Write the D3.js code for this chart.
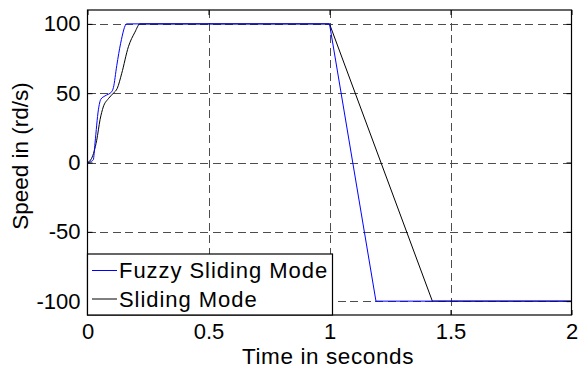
<!DOCTYPE html>
<html>
<head>
<meta charset="utf-8">
<script src="https://cdn.jsdelivr.net/npm/d3@7"></script>
<style>
  html, body { margin: 0; padding: 0; background: #fff; }
  svg { display: block; font-family: Arial, "Liberation Sans", sans-serif; }
</style>
</head>
<body>
<svg id="chart" width="579" height="369"></svg>
<script>
// Speed response of the two controllers (time in s, speed in rd/s)
const fuzzyTime  = [0, 0.012, 0.024, 0.031, 0.045, 0.055, 0.072, 0.100, 0.107, 0.121, 0.137, 0.162, 1.0, 1.192, 2.0];
const fuzzySpeed = [0, 0.5,   2,     14,    38,    45.6,  48,    51,    54,    70,    86,    100,   100, -100,  -100];

const slidingTime  = [0, 0.017, 0.038, 0.052, 0.065, 0.086, 0.107, 0.123, 0.141, 0.169, 0.196, 0.217, 1.0, 1.425, 2.0];
const slidingSpeed = [0, 3,     16,    31,    40,    46,    50,    53.5,  64,    83.5,  94,    100,   100, -100,  -100];

const xTicks = [0, 0.5, 1, 1.5, 2];
const yTicks = [-100, -50, 0, 50, 100];
const seriesNames = ["Fuzzy Sliding Mode", "Sliding Mode"];
const seriesColors = ["#0000ff", "#000000"];
const brakeStart = 1.0; // speed reference reversal instant

const svg = d3.select("#chart");
const plotLeft = 87.5, plotRight = 571.5, plotTop = 10, plotBottom = 315;

const x = d3.scaleLinear().domain([0, 2]).range([plotLeft, plotRight]);
const y = d3.scaleLinear().domain([-110, 110]).range([plotBottom, plotTop]);

// dashed grid
const grid = svg.append("g").attr("stroke", "#4d4d4d").attr("stroke-width", 1)
  .attr("stroke-dasharray", "8,4.5").attr("shape-rendering", "crispEdges");
grid.selectAll("line.vx").data(xTicks.filter(d => d > 0 && d < 2)).join("line")
  .attr("x1", d => Math.round(x(d)) + 0.5).attr("x2", d => Math.round(x(d)) + 0.5)
  .attr("y1", plotTop).attr("y2", plotBottom);
grid.selectAll("line.hy").data(yTicks).join("line")
  .attr("y1", d => Math.round(y(d)) + 0.5).attr("y2", d => Math.round(y(d)) + 0.5)
  .attr("x1", plotLeft).attr("x2", plotRight);

// series: smooth start-up transient, straight-line braking ramp
const smooth = d3.line().x(d => x(d[0])).y(d => y(d[1])).curve(d3.curveMonotoneX);
const straight = d3.line().x(d => x(d[0])).y(d => y(d[1]));
function drawSeries(times, speeds, color) {
  const pts = times.map((t, i) => [t, speeds[i]]);
  const g = svg.append("g").attr("fill", "none").attr("stroke", color).attr("stroke-width", 1);
  g.append("path").attr("d", smooth(pts.filter(p => p[0] <= brakeStart)));
  g.append("path").attr("d", straight(pts.filter(p => p[0] >= brakeStart)));
}
drawSeries(slidingTime, slidingSpeed, seriesColors[1]);
drawSeries(fuzzyTime, fuzzySpeed, seriesColors[0]);

// axes with inward ticks on all sides
const tickLen = 5;
const fmt = d => String(d);
const axB = d3.axisBottom(x).tickValues(xTicks).tickSizeInner(-tickLen).tickSizeOuter(0)
  .tickPadding(8.5).tickFormat(fmt);
const axT = d3.axisTop(x).tickValues(xTicks).tickSizeInner(-tickLen).tickSizeOuter(0).tickFormat("");
const axL = d3.axisLeft(y).tickValues(yTicks).tickSizeInner(-tickLen).tickSizeOuter(0)
  .tickPadding(7).tickFormat(fmt);
const axR = d3.axisRight(y).tickValues(yTicks).tickSizeInner(-tickLen).tickSizeOuter(0).tickFormat("");

function styleAxis(g) {
  g.select(".domain").remove();
  g.selectAll("text").attr("font-size", 22).attr("fill", "#000")
    .attr("font-family", "Arial, 'Liberation Sans', sans-serif");
  g.selectAll("line").attr("stroke", "#000");
}
svg.append("g").attr("transform", `translate(0,${plotBottom})`).call(axB).call(styleAxis)
  .selectAll("text").attr("dy", "0.71em");
svg.append("g").attr("transform", `translate(0,${plotTop})`).call(axT).call(styleAxis);
svg.append("g").attr("transform", `translate(${plotLeft},0)`).call(axL).call(styleAxis);
svg.append("g").attr("transform", `translate(${plotRight},0)`).call(axR).call(styleAxis);

// frame
svg.append("rect").attr("x", plotLeft).attr("y", plotTop)
  .attr("width", plotRight - plotLeft).attr("height", plotBottom - plotTop)
  .attr("fill", "none").attr("stroke", "#000").attr("stroke-width", 1.2);

// axis titles
svg.append("text").attr("x", 328).attr("y", 364).attr("text-anchor", "middle")
  .attr("font-size", 22.5).attr("letter-spacing", 0.6).text("Time in seconds");
svg.append("text").attr("transform", "translate(28,156) rotate(-90)").attr("text-anchor", "middle")
  .attr("font-size", 22.5).text("Speed in (rd/s)");

// legend
const lg = svg.append("g");
lg.append("rect").attr("x", plotLeft).attr("y", 254)
  .attr("width", 332.5 - plotLeft).attr("height", plotBottom - 254)
  .attr("fill", "#fff").attr("stroke", "#000").attr("stroke-width", 1.2);
const rows = [270.5, 299];
seriesNames.forEach((name, i) => {
  lg.append("line").attr("x1", 92).attr("x2", 117).attr("y1", rows[i]).attr("y2", rows[i])
    .attr("stroke", seriesColors[i]).attr("stroke-width", 1);
  lg.append("text").attr("x", 119).attr("y", rows[i]).attr("dy", "0.35em")
    .attr("font-size", 22).attr("letter-spacing", 0.95).text(name);
});
</script>
</body>
</html>
